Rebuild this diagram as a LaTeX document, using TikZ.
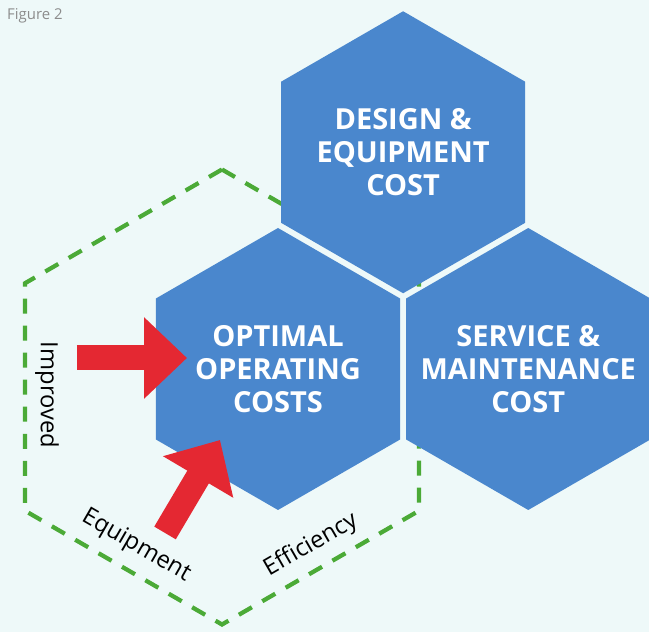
\documentclass[tikz,border=0pt]{standalone}
\usepackage{fontspec}
\setmainfont{Open Sans}
\usetikzlibrary{arrows.meta,positioning,calc,shapes.geometric}

\definecolor{hexblue}{HTML}{4A87CD}
\definecolor{pushred}{HTML}{E42832}
\definecolor{loopgreen}{HTML}{4BAA37}
\definecolor{paper}{HTML}{EEF9F9}

\begin{document}
\begin{tikzpicture}[
  hexa/.style={regular polygon, regular polygon sides=6,
               regular polygon rotate=30, minimum size=5.64cm,
               inner sep=0pt, outer sep=0pt, fill=hexblue},
  hextext/.style={text=white, align=center, inner sep=0pt,
                  font=\fontsize{16.5}{18.8}\selectfont\bfseries},
  cycle hex/.style={regular polygon, regular polygon sides=6,
                    regular polygon rotate=30, minimum size=9.1cm,
                    inner sep=0pt, draw=loopgreen, line width=0.085cm,
                    dash pattern=on 0.3cm off 0.24cm},
  push/.style={pushred, line width=0.5cm,
               -{Triangle[length=0.86cm, width=1.58cm]}},
  tag/.style={text=black, font=\fontsize{13.5}{16}\selectfont},
]
  \fill[paper] (0,0) rectangle (12.98,12.64);
  \useasboundingbox (0,0) rectangle (12.98,12.64);

  \node[text=black!45, font=\fontsize{8.5}{10}\selectfont, anchor=west]
    (fig) at (0.02,12.32) {Figure 2};

  % green loop sits behind the three cost blocks
  \node[cycle hex] (loop) at (4.44,4.70) {};

  \node[hexa] (optimal) at (5.56,5.26) {};
  \node[hexa, right=0.12cm of optimal] (service) {};
  \node[hexa] (design) at ($(optimal.center)!1!60:(service.center)$) {};

  \node[hextext] (optimalText) at (optimal) {OPTIMAL\\OPERATING\\COSTS};
  \node[hextext] (serviceText) at (service) {SERVICE \&\\MAINTENANCE\\COST};
  \node[hextext] (designText) at (design) {DESIGN \&\\EQUIPMENT\\COST};

  % red arrows pushing into the optimal block
  \coordinate (impTip) at ($(optimal.center)+(-1.82,0.22)$);
  \coordinate[left=2.2cm of impTip] (impTail);
  \coordinate (effTip) at ($(optimal.center)+(-1.16,-1.42)$);
  \coordinate (effTail) at ($(effTip)+(239.4:2.16)$);
  \draw[push] (impTail) -- (impTip);
  \draw[push] (effTail) -- (effTip);

  \node[tag, rotate=-90] (improved) at (0.94,4.74) {Improved};
  \node[tag, rotate=-30] (equip) at (2.72,1.72) {Equipment};
  \node[tag, rotate=30] (eff) at (6.22,1.74) {Efficiency};
\end{tikzpicture}
\end{document}
